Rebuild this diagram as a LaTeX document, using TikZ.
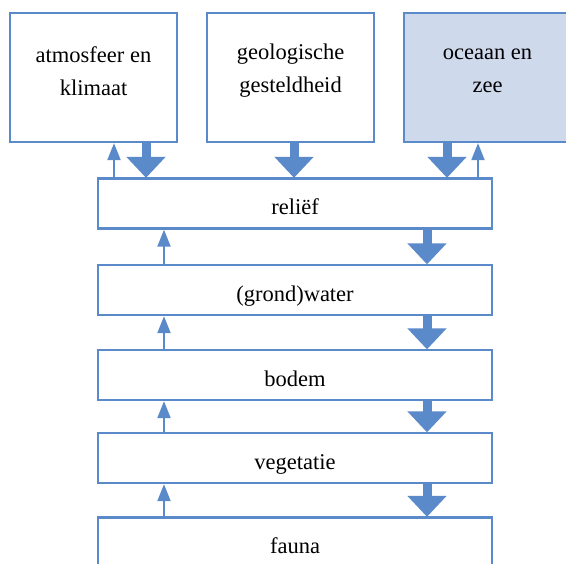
\documentclass[tikz,border=0pt]{standalone}
\usepackage{fontspec}
\setmainfont{Liberation Serif}
\usetikzlibrary{arrows.meta}
\definecolor{bl}{RGB}{91,138,203}
\definecolor{lbl}{RGB}{207,217,236}
\tikzset{
  topbox/.style={draw=bl, line width=2.3pt, minimum width=167pt, minimum height=129pt, inner sep=0pt},
  toptext/.style={align=center, inner sep=0pt, font=\fontsize{22.5}{33}\selectfont},
  midbox/.style={draw=bl, line width=2.3pt, minimum width=394pt, minimum height=50pt, inner sep=0pt},
  midtext/.style={inner sep=0pt, font=\fontsize{22.5}{30}\selectfont},
  bigarrow/.style={draw=bl, line width=9pt, -{Triangle[width=38pt,length=21pt]}, shorten >=-0.5pt},
  thinarrow/.style={draw=bl, line width=2pt, -{Triangle[width=13pt,length=17pt]}}
}
\begin{document}
\begin{tikzpicture}[x=1pt,y=-1pt]
\useasboundingbox (0,0) rectangle (566,564);
\clip (0,0) rectangle (566,564);
\fill[white] (0,0) rectangle (566,564);
% top boxes
\node[topbox] (atm) at (93.5,77.5) {};
\node[topbox] (geo) at (290.5,77.5) {};
\node[topbox, fill=lbl] (oce) at (487.5,77.5) {};
\node[toptext] (atmt) at (93.5,71) {atmosfeer en\\klimaat};
\node[toptext] (geot) at (290.5,71) {geologische\\gesteldheid};
\node[toptext] (ocet) at (487.5,71) {oceaan en\\zee};
% middle boxes
\node[midbox] (rel) at (295,203.5) {};
\node[midbox] (wat) at (295,290) {};
\node[midbox] (bod) at (295,375) {};
\node[midbox] (veg) at (295,458) {};
\node[midbox] (fau) at (295,542.5) {};
\node[midtext, anchor=base] (relt) at (295,215) {reliëf};
\node[midtext, anchor=base] (watt) at (295,301.5) {(grond)water};
\node[midtext, anchor=base] (bodt) at (295,386.5) {bodem};
\node[midtext, anchor=base] (vegt) at (295,469.5) {vegetatie};
\node[midtext, anchor=base] (faut) at (295,554) {fauna};
% top arrows
\draw[bigarrow] (atm.south -| 146,0) -- (rel.north -| 146,0);
\draw[bigarrow] (geo.south -| 294,0) -- (rel.north -| 294,0);
\draw[bigarrow] (oce.south -| 447,0) -- (rel.north -| 447,0);
\draw[thinarrow] (rel.north -| 114,0) -- (atm.south -| 114,0);
\draw[thinarrow] (rel.north -| 478,0) -- (oce.south -| 478,0);
% middle arrows
\foreach \a/\b in {rel/wat, wat/bod, bod/veg, veg/fau}{
  \draw[bigarrow] (\a.south -| 427,0) -- (\b.north -| 427,0);
  \draw[thinarrow] (\b.north -| 164,0) -- (\a.south -| 164,0);
}
\end{tikzpicture}
\end{document}
